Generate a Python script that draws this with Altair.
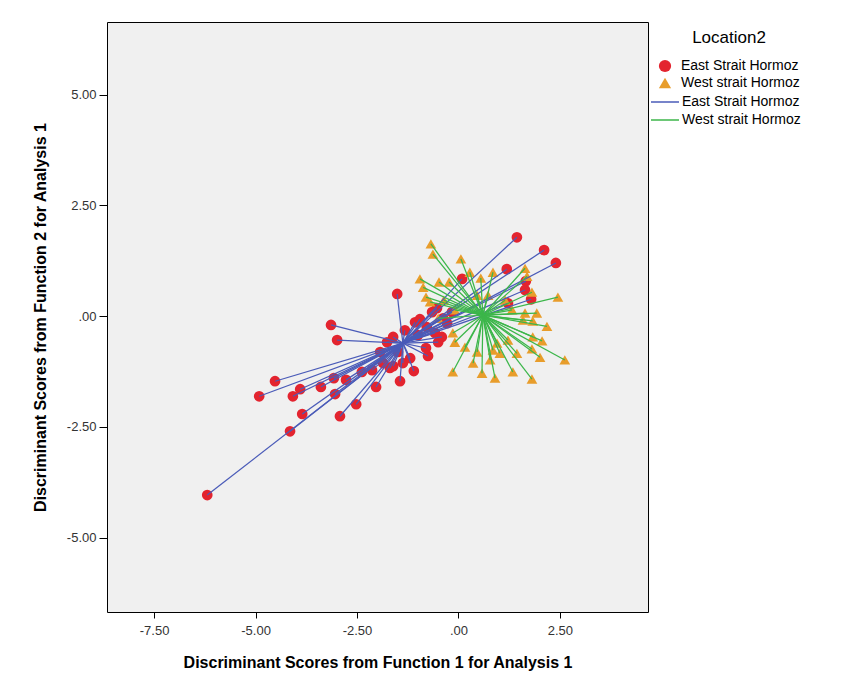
import altair as alt
import pandas as pd

groups = ["East Strait Hormoz", "West strait Hormoz"]

east_x = [-6.19, -4.91, -4.52, -4.15, -4.08, -3.90, -3.85, -3.39, -3.14, -2.99,
          -3.07, -2.77, -3.04, -2.92, -2.52, -2.03, -2.13, -1.69, -1.51, -1.44,
          -1.10, -0.75, -1.86, -1.61, -1.37, -1.19, -1.93, -1.76, -1.61, -1.32,
          -1.07, -0.95, -0.65, -0.41, -0.50, -0.78, -0.28, -0.58, -0.53, -0.80,
          0.09, 1.44, 2.11, 2.40, 1.19, 1.66, 1.64, 1.79, 1.22, -1.00,
          -1.49, -2.38, -0.16, -0.38]
east_y = [-4.04, -1.81, -1.47, -2.60, -1.81, -1.65, -2.21, -1.60, -0.20, -0.54,
          -1.40, -1.44, -1.76, -2.26, -1.99, -1.60, -1.22, -1.17, 0.50, -1.47,
          -1.24, -0.90, -1.06, -1.13, -1.06, -0.95, -0.81, -0.59, -0.47, -0.32,
          -0.14, -0.07, 0.09, -0.47, -0.59, -0.25, -0.16, -0.38, 0.18, -0.72,
          0.84, 1.78, 1.49, 1.20, 1.06, 0.79, 0.59, 0.38, 0.29, -0.43,
          -0.81, -1.26, 0.09, -0.05]

west_x = [-0.68, -0.63, 0.06, 0.28, 0.85, 0.55, -0.95, -0.48, -0.23, -0.87,
          -0.80, -0.70, 0.46, 0.73, 1.64, 1.69, 2.45, 1.81, 1.64, 1.93,
          1.83, 1.59, 2.18, 1.83, 2.06, 1.81, 2.01, 2.62, 1.44, 0.95,
          0.85, 1.34, 1.81, 0.90, -0.09, 0.16, 0.46, 0.36, -0.14, 0.58,
          0.78, 1.02, 1.22, -0.14, -0.36, -0.09, 1.15, 1.32, -0.50]
west_y = [1.63, 1.40, 1.29, 0.99, 0.99, 0.86, 0.84, 0.77, 0.77, 0.65,
          0.43, 0.32, 0.47, 0.47, 1.08, 0.90, 0.43, 0.54, 0.07, 0.07,
          -0.11, -0.09, -0.23, -0.47, -0.56, -0.74, -0.93, -0.99, -0.84, -0.61,
          -0.77, -1.26, -1.42, -1.40, -0.59, -0.70, -0.81, -1.06, -1.26, -1.29,
          -0.99, -0.84, -0.54, -0.38, 0.36, 0.14, 0.36, 0.14, -0.05]

east_centroid = [-1.37, -0.61]
west_centroid = [0.60, 0.02]

x_ticks = [-7.5, -5.0, -2.5, 0.0, 2.5]
y_ticks = [-5.0, -2.5, 0.0, 2.5, 5.0]

rows = []
for xv, yv in zip(east_x, east_y):
    rows.append({"x": xv, "y": yv, "cx": east_centroid[0], "cy": east_centroid[1], "g": groups[0]})
for xv, yv in zip(west_x, west_y):
    rows.append({"x": xv, "y": yv, "cx": west_centroid[0], "cy": west_centroid[1], "g": groups[1]})
df = pd.DataFrame(rows)
df["gl"] = df["g"]

FONT = "Liberation Sans"
label_expr = ("datum.value == 0 ? '.00' : "
              "replace(format(datum.value, '.2f'), '\u2212', '-')")

xs = alt.Scale(domain=[-8.66, 4.67], nice=False, zero=False)
ys = alt.Scale(domain=[-6.68, 6.64], nice=False, zero=False)

xaxis = alt.Axis(values=x_ticks, labelExpr=label_expr, grid=False, domain=False,
                 tickSize=6, tickColor="black", labelFont=FONT, labelFontSize=13,
                 labelColor="#333333", labelPadding=6,
                 title="Discriminant Scores from Function 1 for Analysis 1",
                 titleFont=FONT, titleFontSize=16, titleFontWeight="bold",
                 titleColor="black", titlePadding=17)
yaxis = alt.Axis(values=y_ticks, labelExpr=label_expr, grid=False, domain=False,
                 tickSize=8, tickColor="black", labelFont=FONT, labelFontSize=13,
                 labelColor="#333333", labelPadding=3,
                 title="Discriminant Scores from Function 2 for Analysis 1",
                 titleFont=FONT, titleFontSize=16, titleFontWeight="bold",
                 titleColor="black", titlePadding=18)

pt_legend = alt.Legend(title="Location2", orient="none", legendX=551, legendY=8,
                       titleAnchor="middle", titleFont=FONT, titleFontSize=17,
                       titleFontWeight="normal", titleColor="black", titlePadding=12,
                       labelFont=FONT, labelFontSize=14, labelColor="black",
                       labelOffset=9, symbolSize=150, rowPadding=3, padding=0)

points = alt.Chart(df).mark_point(filled=True, opacity=1, size=115).encode(
    x=alt.X("x:Q", scale=xs, axis=xaxis),
    y=alt.Y("y:Q", scale=ys, axis=yaxis),
    color=alt.Color("g:N", scale=alt.Scale(domain=groups, range=["#e3242f", "#e89d2b"]),
                    legend=pt_legend),
    shape=alt.Shape("g:N", scale=alt.Scale(domain=groups, range=["circle", "triangle-up"]),
                    legend=pt_legend),
)

rules = alt.Chart(df).mark_rule(strokeWidth=1.25).encode(
    x=alt.X("x:Q", scale=xs, axis=xaxis),
    y=alt.Y("y:Q", scale=ys, axis=yaxis),
    x2="cx:Q",
    y2="cy:Q",
    color=alt.Color("gl:N", scale=alt.Scale(domain=groups, range=["#4a5bb8", "#3cb64a"]),
                    legend=alt.Legend(title=None, orient="none", legendX=550, legendY=72,
                                      symbolType="M-2,0H2", symbolSize=196,
                                      symbolStrokeWidth=1.5, symbolFillColor="transparent",
                                      labelOffset=9,
                                      labelFont=FONT, labelFontSize=14, labelColor="black",
                                      rowPadding=3, padding=0)),
)

chart = alt.layer(points, rules).resolve_scale(color="independent", shape="independent").properties(
    width=541, height=590,
    autosize=alt.AutoSizeParams(type="none"),
    padding={"left": 99, "top": 14, "right": 191, "bottom": 63},
    background="white",
).configure_view(fill="#f0f0f0", stroke="black", strokeWidth=1)

chart.save("out.html", embed_options={"renderer": "svg", "actions": False})
